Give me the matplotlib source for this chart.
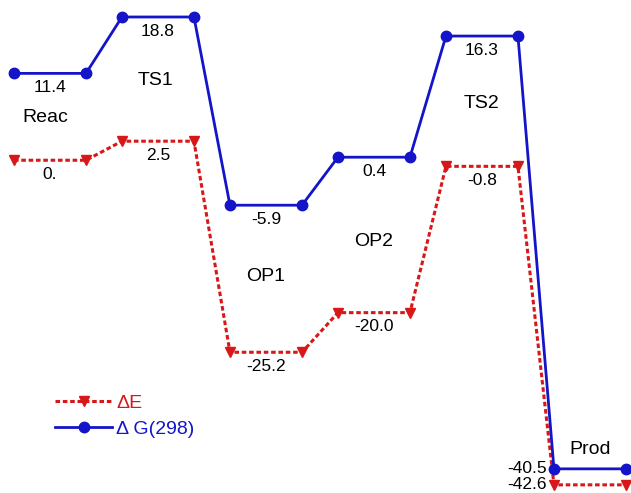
import matplotlib
matplotlib.use("Agg")
import matplotlib.pyplot as plt

plt.rcParams['font.family'] = ['Liberation Sans', 'DejaVu Sans']

states = ["Reac", "TS1", "OP1", "OP2", "TS2", "Prod"]
dE = [0.0, 2.5, -25.2, -20.0, -0.8, -42.6]
dG = [11.4, 18.8, -5.9, 0.4, 16.3, -40.5]

BLUE = "#1414C8"
RED = "#D81818"

fig = plt.figure(figsize=(6.31, 4.93), dpi=100)
ax = fig.add_axes([0, 0, 1, 1])
ax.set_xlim(-0.194, 8.57)
ax.set_ylim(-43.67, 21.03)
ax.axis("off")

def profile(vals):
    xs, ys = [], []
    for i, v in enumerate(vals):
        xs += [1.5 * i, 1.5 * i + 1]
        ys += [v, v]
    return xs, ys

def fmt(v):
    return "0." if v == 0 else f"{v:.1f}"

xe, ye = profile(dE)
xg, yg = profile(dG)
ax.plot(xe, ye, color=RED, lw=2.2, ls=(0, (1.5, 0.9)), marker="v", ms=7,
        label="ΔE", zorder=2)
ax.plot(xg, yg, color=BLUE, lw=2, marker="o", ms=7.5,
        label="Δ G(298)", zorder=3)

fs = 12.5
for i, (e, g) in enumerate(zip(dE, dG)):
    cx = 1.5 * i + 0.5
    if i < len(states) - 1:
        ax.text(cx, g - 1.85, fmt(g), ha="center", va="center", fontsize=fs)
        ax.text(cx, e - 1.85, fmt(e), ha="center", va="center", fontsize=fs)
    else:
        ax.text(1.5 * i - 0.1, g, fmt(g), ha="right", va="center", fontsize=fs)
        ax.text(1.5 * i - 0.1, e + 0.1, fmt(e), ha="right", va="center", fontsize=fs)

name_pos = [(0.43, 5.6), (1.97, 10.4), (3.49, -15.2), (4.99, -10.6), (6.5, 7.4), (8.0, -38.0)]
for name, (x, y) in zip(states, name_pos):
    ax.text(x, y, name, ha="center", va="center", fontsize=14)

leg = ax.legend(loc="upper left", bbox_to_anchor=(0.087, 0.200), frameon=False,
                fontsize=14, handlelength=2.95, handletextpad=0.2,
                labelspacing=0.42, labelcolor="linecolor", borderpad=0,
                borderaxespad=0)

fig.savefig("out.png", dpi=100)
